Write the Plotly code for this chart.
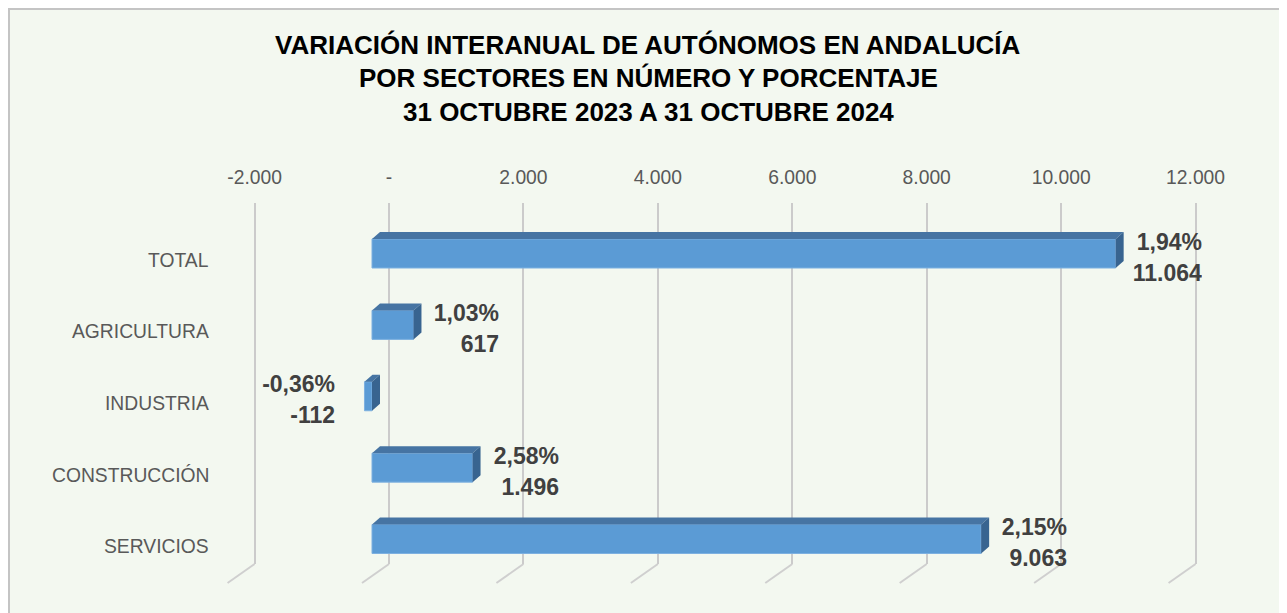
import plotly.graph_objects as go

# ---------------- data ----------------
categories = ["TOTAL", "AGRICULTURA", "INDUSTRIA", "CONSTRUCCIÓN", "SERVICIOS"]
values = [11064, 617, -112, 1496, 9063]
pct_labels = ["1,94%", "1,03%", "-0,36%", "2,58%", "2,15%"]
tick_vals = [-2000, 0, 2000, 4000, 6000, 8000, 10000, 12000]
tick_text = ["-2.000", "-", "2.000", "4.000", "6.000", "8.000", "10.000", "12.000"]
title_lines = [
    "VARIACIÓN INTERANUAL DE AUTÓNOMOS EN ANDALUCÍA",
    "POR SECTORES EN NÚMERO Y PORCENTAJE",
    "31 OCTUBRE 2023 A 31 OCTUBRE 2024",
]

# ---------------- layout constants (page pixels) ----------------
PAGE_W, PAGE_H = 1287, 613
OFF = 8                                  # default body margin of the html page
W, H = PAGE_W - OFF, PAGE_H - OFF
PLOT_TOP, PLOT_BOT = 203, 564            # back wall top / floor
K = 941 / 14000                          # px per unit on x
X0_BACK = 389                            # page px of 0 on back wall
X0_FRONT = 372                           # page px of 0 on front plane
Y_FIRST, Y_LAST = 253.5, 539             # page px of first/last bar centres
U = (Y_LAST - Y_FIRST) / (len(categories) - 1)
Y_TOP = -(Y_FIRST - PLOT_TOP) / U
Y_BOT = Y_TOP + (PLOT_BOT - PLOT_TOP) / U
BAR_W = 29 / U
DX = 8 / K
DY = 7 / U

FONT = "Liberation Sans, Arial, sans-serif"
FRONT = "#5B9BD5"
TOP = "#4674A3"
SIDE = "#386490"
BG = "#F3F8F0"


def fx(px):
    return (px - OFF) / W


def fy(px):
    return 1 - (px - OFF) / H


idx = list(range(len(categories)))

fig = go.Figure()

# front faces
fig.add_trace(go.Bar(
    x=values, y=idx, orientation="h", width=BAR_W,
    marker=dict(color=FRONT, line=dict(color="#7DB0E0", width=1)),
    xaxis="x", yaxis="y", hoverinfo="skip", showlegend=False,
))

# top and side faces computed from data
top_x, top_y, side_x, side_y = [], [], [], []
for i, v in zip(idx, values):
    lo, hi = min(0, v), max(0, v)
    yt = i - BAR_W / 2
    yb = i + BAR_W / 2
    top_x += [lo, hi, hi + DX, lo + DX, lo, None]
    top_y += [yt, yt, yt - DY, yt - DY, yt, None]
    side_x += [hi, hi + DX, hi + DX, hi, hi, None]
    side_y += [yt, yt - DY, yb - DY, yb, yt, None]

fig.add_trace(go.Scatter(x=top_x, y=top_y, fill="toself", fillcolor=TOP, mode="lines",
                         line=dict(width=0, color=TOP), xaxis="x", yaxis="y",
                         hoverinfo="skip", showlegend=False))
fig.add_trace(go.Scatter(x=side_x, y=side_y, fill="toself", fillcolor=SIDE, mode="lines",
                         line=dict(width=0, color=SIDE), xaxis="x", yaxis="y",
                         hoverinfo="skip", showlegend=False))

# invisible trace to activate the grid axis
fig.add_trace(go.Scatter(x=[tick_vals[0], tick_vals[-1]], y=[0, 0], mode="markers",
                         marker=dict(opacity=0), xaxis="x2", yaxis="y",
                         hoverinfo="skip", showlegend=False))

annotations = []
# title
for line, ypx in zip(title_lines, [45, 78, 112]):
    annotations.append(dict(text=line, xref="paper", yref="paper", x=fx(648), y=fy(ypx),
                            xanchor="center", yanchor="middle", showarrow=False,
                            font=dict(family=FONT, size=26, color="#000000", weight="bold")))
# category labels
for i, c in zip(idx, categories):
    annotations.append(dict(text=c, xref="paper", yref="y", x=fx(211), y=i, yshift=-7,
                            xanchor="right", yanchor="middle", showarrow=False,
                            font=dict(family=FONT, size=19.3, color="#595959")))
# data labels (two right-aligned lines)
LBL_FONT = dict(family=FONT, size=23, color="#404040", weight="bold")
for i, v, p in zip(idx, values, pct_labels):
    vlab = f"{v:,}".replace(",", ".")
    for txt, ys in ((p, 12), (vlab, -19)):
        if v >= 0:
            annotations.append(dict(text=txt, xref="x", yref="y", x=v + DX, y=i,
                                    xanchor="left", yanchor="middle", xshift=2, yshift=ys,
                                    width=74, align="right", showarrow=False, font=LBL_FONT))
        else:
            annotations.append(dict(text=txt, xref="x", yref="y", x=v, y=i,
                                    xanchor="right", yanchor="middle", xshift=-27, yshift=ys,
                                    width=74, align="right", showarrow=False, font=LBL_FONT))

shapes = [
    dict(type="rect", xref="paper", yref="paper", x0=1 / W, x1=1.02, y0=1 - 1 / H, y1=-0.02,
         fillcolor=BG, line=dict(color="#C4C4C4", width=2), layer="below"),
]
# floor lines
for t in tick_vals:
    shapes.append(dict(type="line", xref="x2", yref="paper", x0=t, x1=t - 27 / K,
                       y0=fy(PLOT_BOT), y1=fy(PLOT_BOT + 19),
                       line=dict(color="#CFCFCF", width=2), layer="below"))

fig.update_layout(
    width=W, height=H,
    margin=dict(l=0, r=0, t=0, b=0),
    paper_bgcolor="#FFFFFF",
    plot_bgcolor="rgba(0,0,0,0)",
    barmode="overlay",
    xaxis=dict(range=[-(X0_FRONT - OFF) / K, (W - (X0_FRONT - OFF)) / K], domain=[0, 1],
               showgrid=False, zeroline=False, showticklabels=False, showline=False,
               fixedrange=True),
    xaxis2=dict(range=[-(X0_BACK - OFF) / K, (W - (X0_BACK - OFF)) / K], domain=[0, 1],
                overlaying="x", side="top", anchor="y", tickvals=tick_vals, ticktext=tick_text,
                showgrid=True, gridcolor="#CBCBCB", gridwidth=2, zeroline=False,
                showline=False, ticks="outside", ticklen=10, tickcolor="rgba(0,0,0,0)",
                tickfont=dict(family=FONT, size=19.3, color="#595959"), fixedrange=True),
    yaxis=dict(range=[Y_BOT, Y_TOP], domain=[fy(PLOT_BOT), fy(PLOT_TOP)],
               showgrid=False, zeroline=False, showticklabels=False, showline=False,
               fixedrange=True),
    annotations=annotations,
    shapes=shapes,
)

fig.write_html("out.html")
